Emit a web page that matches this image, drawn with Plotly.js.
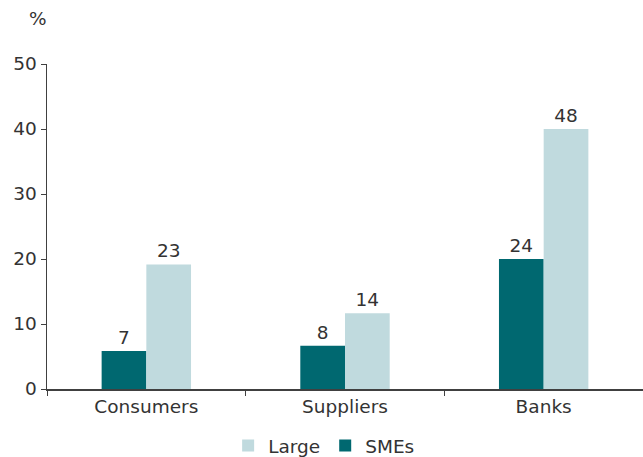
<!DOCTYPE html>
<html>
<head>
<meta charset="utf-8">
<script src="https://cdn.plot.ly/plotly-3.0.1.min.js"></script>
<style>html,body{margin:0;padding:0;background:#fff;}#chart{width:643px;height:457px;}</style>
</head>
<body>
<div id="chart"></div>
<script>
var categories = ["Consumers", "Suppliers", "Banks"];
var smes = [7, 8, 24];
var large = [23, 14, 48];
var yTickVals = [0, 12, 24, 36, 48, 60];
var yTickText = ["0", "10", "20", "30", "40", "50"];

var font = "DejaVu Sans, Verdana, sans-serif";
var txtColor = "#333333";
var fs = 18.5;

var traces = [
  {type: "bar", name: "SMEs", x: categories, y: smes, marker: {color: "#006870"},
   text: smes.map(String), textposition: "outside", cliponaxis: false,
   textfont: {family: font, size: fs, color: txtColor}, hoverinfo: "none"},
  {type: "bar", name: "Large", x: categories, y: large, marker: {color: "#c0dade"},
   text: large.map(String), textposition: "outside", cliponaxis: false,
   textfont: {family: font, size: fs, color: txtColor}, hoverinfo: "none"}
];

var layout = {
  width: 643, height: 457,
  margin: {l: 47, r: 0, t: 64, b: 68, autoexpand: false},
  paper_bgcolor: "#fff", plot_bgcolor: "#fff",
  font: {family: font, size: fs, color: txtColor},
  barmode: "group", bargap: 0.55, bargroupgap: 0,
  showlegend: true,
  legend: {orientation: "h", x: 0.465, xanchor: "center", yref: "container", y: 0.024, yanchor: "middle",
           traceorder: "reversed", font: {family: font, size: fs, color: txtColor}, itemwidth: 30},
  xaxis: {type: "category", showline: true, linecolor: "#404040", linewidth: 1.5,
          ticks: "outside", tickson: "boundaries", ticklen: 5, tickcolor: "#404040",
          showgrid: false, zeroline: false, fixedrange: true, automargin: false},
  yaxis: {range: [0, 60], tickmode: "array", tickvals: yTickVals, ticktext: yTickText,
          showline: true, linecolor: "#404040", linewidth: 1.5, ticks: "outside", ticklen: 5,
          tickcolor: "#404040", showgrid: false, zeroline: false, fixedrange: true, automargin: false},
  annotations: [{text: "%", xref: "paper", yref: "paper", x: -0.015, y: 1.0, yshift: 46,
                 xanchor: "center", yanchor: "middle", showarrow: false,
                 font: {family: font, size: fs, color: txtColor}}]
};

Plotly.newPlot("chart", traces, layout, {displayModeBar: false, staticPlot: true});
</script>
</body>
</html>
